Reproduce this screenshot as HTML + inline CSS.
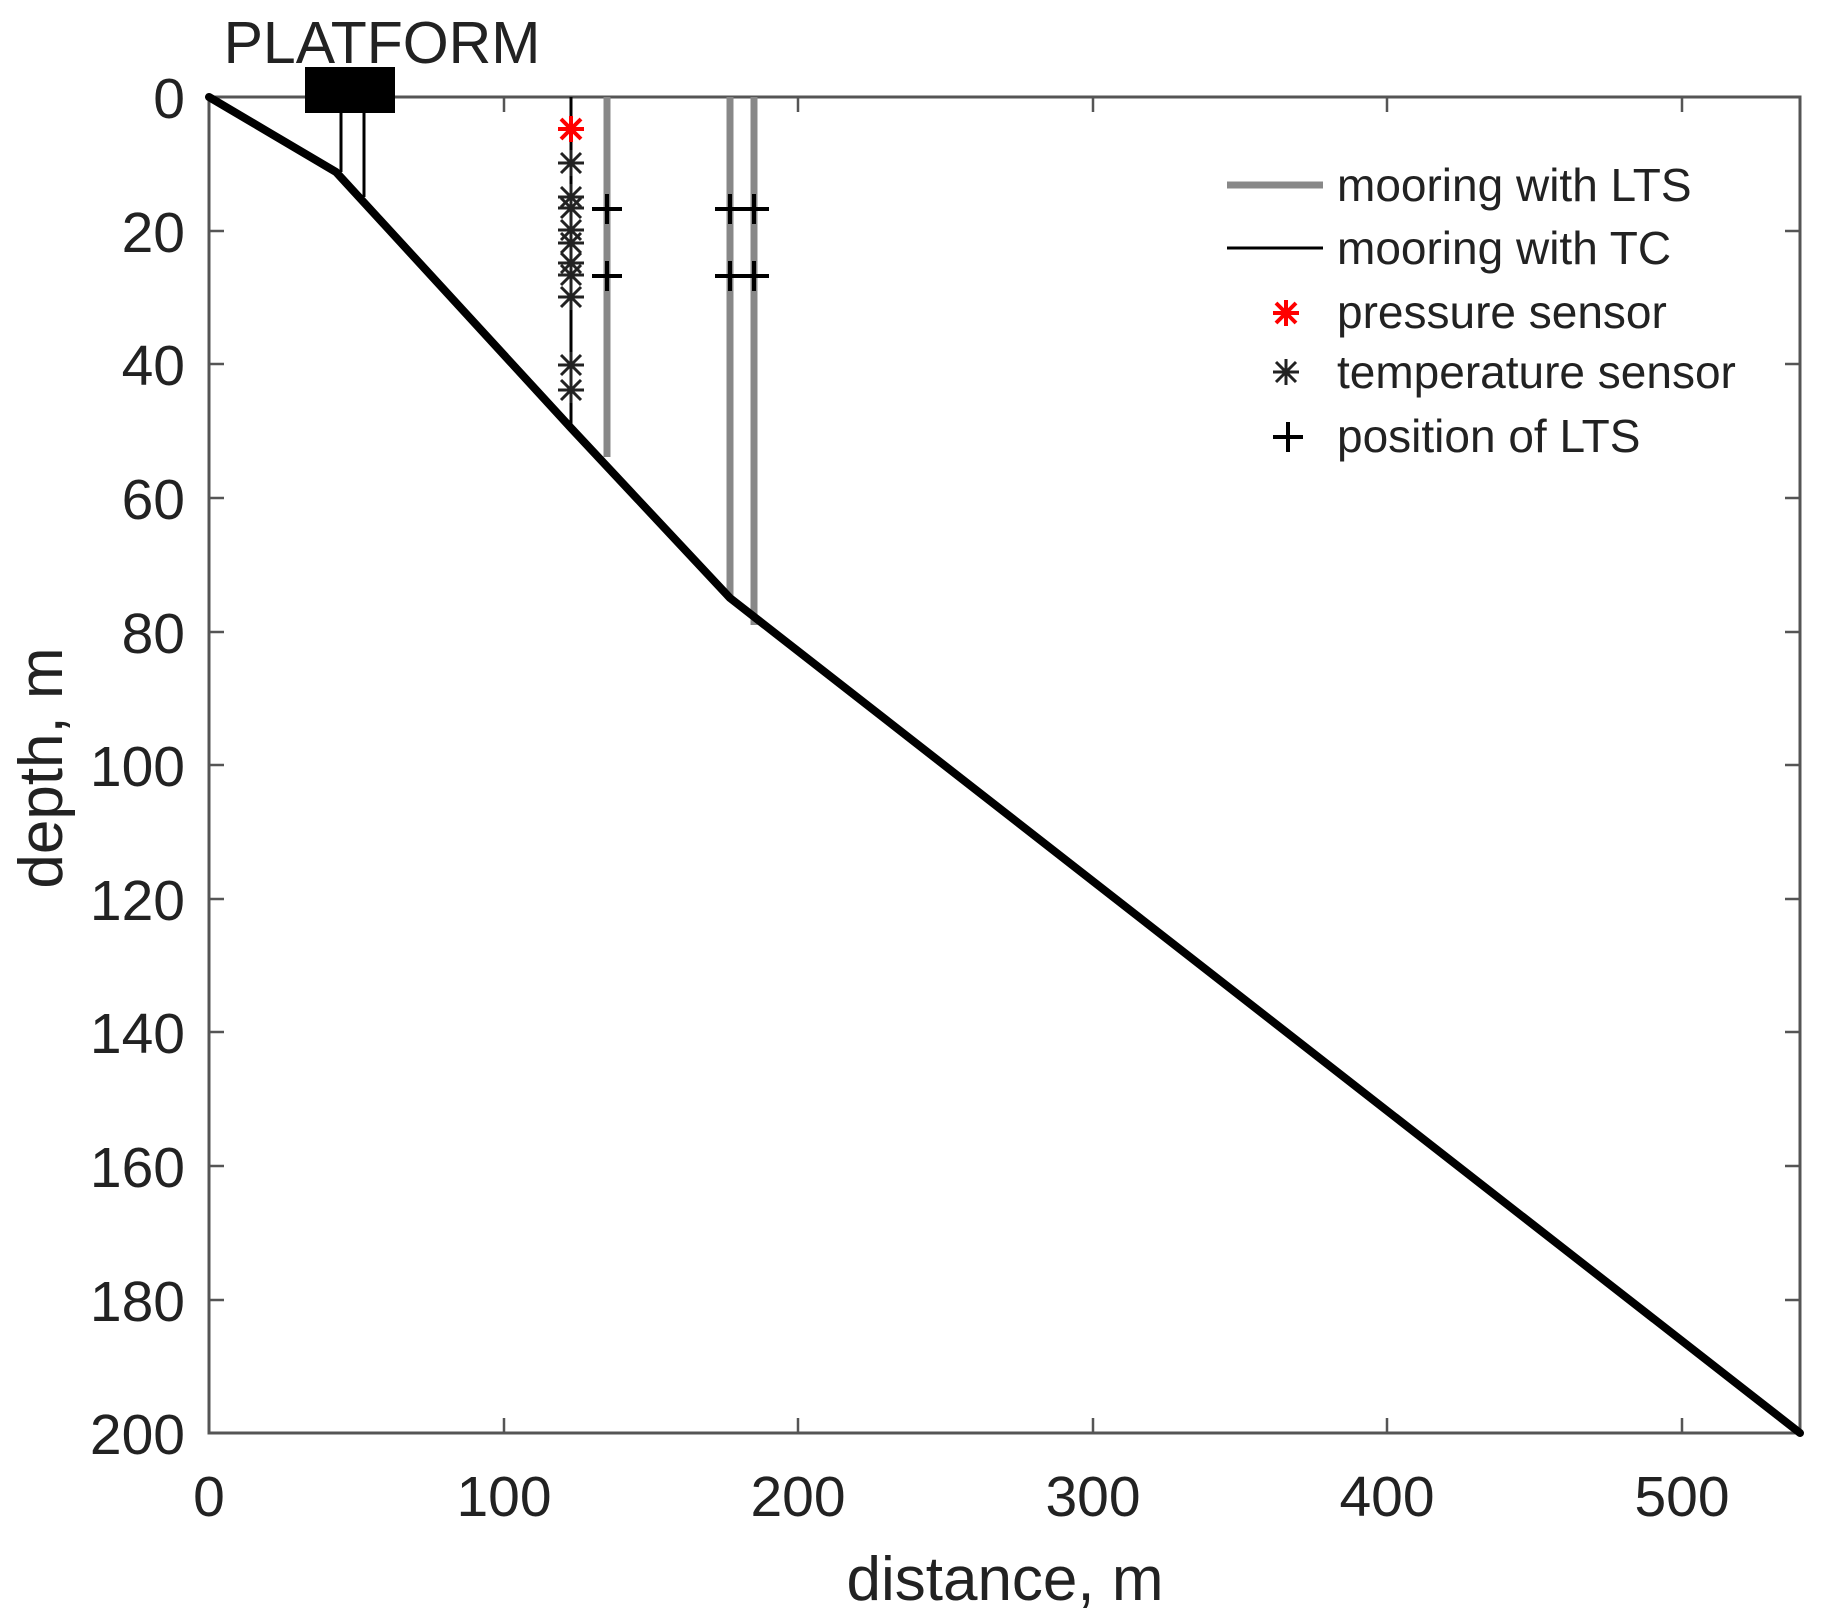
<!DOCTYPE html>
<html><head><meta charset="utf-8"><style>html,body{margin:0;padding:0;background:#fff}</style></head><body>
<svg width="1821" height="1615" viewBox="0 0 1821 1615" xmlns="http://www.w3.org/2000/svg" font-family="Liberation Sans, Arial, sans-serif">
<rect width="1821" height="1615" fill="#fff"/>
<rect x="209" y="97" width="1591" height="1336" fill="none" stroke="#555" stroke-width="3"/>
<g stroke="#555" stroke-width="2.5">
<line x1="504" y1="1433" x2="504" y2="1418"/><line x1="798" y1="1433" x2="798" y2="1418"/><line x1="1093" y1="1433" x2="1093" y2="1418"/><line x1="1387" y1="1433" x2="1387" y2="1418"/><line x1="1682" y1="1433" x2="1682" y2="1418"/>
<line x1="504" y1="97" x2="504" y2="112"/><line x1="798" y1="97" x2="798" y2="112"/><line x1="1093" y1="97" x2="1093" y2="112"/><line x1="1387" y1="97" x2="1387" y2="112"/><line x1="1682" y1="97" x2="1682" y2="112"/>
<line x1="209" y1="231" x2="224" y2="231"/><line x1="209" y1="364" x2="224" y2="364"/><line x1="209" y1="498" x2="224" y2="498"/><line x1="209" y1="632" x2="224" y2="632"/><line x1="209" y1="765" x2="224" y2="765"/><line x1="209" y1="899" x2="224" y2="899"/><line x1="209" y1="1032" x2="224" y2="1032"/><line x1="209" y1="1166" x2="224" y2="1166"/><line x1="209" y1="1300" x2="224" y2="1300"/>
<line x1="1800" y1="231" x2="1785" y2="231"/><line x1="1800" y1="364" x2="1785" y2="364"/><line x1="1800" y1="498" x2="1785" y2="498"/><line x1="1800" y1="632" x2="1785" y2="632"/><line x1="1800" y1="765" x2="1785" y2="765"/><line x1="1800" y1="899" x2="1785" y2="899"/><line x1="1800" y1="1032" x2="1785" y2="1032"/><line x1="1800" y1="1166" x2="1785" y2="1166"/><line x1="1800" y1="1300" x2="1785" y2="1300"/>
</g>
<g font-size="57" fill="#222" text-anchor="middle">
<text x="209" y="1516">0</text><text x="504" y="1516">100</text><text x="798" y="1516">200</text><text x="1093" y="1516">300</text><text x="1387" y="1516">400</text><text x="1682" y="1516">500</text>
</g>
<g font-size="57" fill="#222" text-anchor="end">
<text x="185" y="118">0</text><text x="185" y="252">20</text><text x="185" y="385">40</text><text x="185" y="519">60</text><text x="185" y="653">80</text><text x="185" y="786">100</text><text x="185" y="920">120</text><text x="185" y="1053">140</text><text x="185" y="1187">160</text><text x="185" y="1321">180</text><text x="185" y="1454">200</text>
</g>
<text x="1005" y="1600" font-size="62" fill="#222" text-anchor="middle">distance, m</text>
<text transform="translate(62,768) rotate(-90)" font-size="62" fill="#222" text-anchor="middle">depth, m</text>
<text x="382" y="63" font-size="59" fill="#222" text-anchor="middle">PLATFORM</text>
<rect x="305" y="67" width="90" height="46" fill="#000"/>
<line x1="341" y1="113" x2="341" y2="172" stroke="#000" stroke-width="3"/>
<line x1="364" y1="113" x2="364" y2="197" stroke="#000" stroke-width="3"/>
<g stroke="#888" stroke-width="7">
<line x1="607" y1="97" x2="607" y2="457"/>
<line x1="730" y1="97" x2="730" y2="598"/>
<line x1="754" y1="97" x2="754" y2="625"/>
</g>
<line x1="571" y1="97" x2="571" y2="428" stroke="#000" stroke-width="3"/>
<polyline points="209,97 336,172 571,428 730,598 1800,1433" fill="none" stroke="#000" stroke-width="8" stroke-linejoin="round" stroke-linecap="round"/>
<defs>
<g id="ast"><line x1="-13" y1="0" x2="13" y2="0"/><line x1="0" y1="-13" x2="0" y2="13"/><line x1="-10" y1="-10" x2="10" y2="10"/><line x1="-10" y1="10" x2="10" y2="-10"/></g>
<g id="pl"><line x1="-15" y1="0" x2="15" y2="0"/><line x1="0" y1="-15" x2="0" y2="15"/></g>
</defs>
<g stroke="#222" stroke-width="3">
<use href="#ast" x="571" y="163"/><use href="#ast" x="571" y="197"/><use href="#ast" x="571" y="208"/><use href="#ast" x="571" y="230"/><use href="#ast" x="571" y="243"/><use href="#ast" x="571" y="263"/><use href="#ast" x="571" y="275"/><use href="#ast" x="571" y="297"/><use href="#ast" x="571" y="365"/><use href="#ast" x="571" y="390"/>
</g>
<g stroke="#f00" stroke-width="4"><use href="#ast" x="571" y="129"/></g>
<g stroke="#000" stroke-width="4">
<use href="#pl" x="607" y="209"/><use href="#pl" x="607" y="276"/>
<use href="#pl" x="730" y="209"/><use href="#pl" x="730" y="276"/>
<use href="#pl" x="754" y="209"/><use href="#pl" x="754" y="276"/>
</g>
<line x1="1227" y1="185" x2="1323" y2="185" stroke="#888" stroke-width="7"/>
<line x1="1227" y1="248" x2="1323" y2="248" stroke="#000" stroke-width="3"/>
<g stroke="#f00" stroke-width="4"><use href="#ast" x="1286" y="313"/></g>
<g stroke="#222" stroke-width="3"><use href="#ast" x="1286" y="372"/></g>
<g stroke="#000" stroke-width="4"><use href="#pl" x="1288" y="437"/></g>
<g font-size="46" fill="#222">
<text x="1337" y="201">mooring with LTS</text>
<text x="1337" y="264">mooring with TC</text>
<text x="1337" y="328">pressure sensor</text>
<text x="1337" y="388">temperature sensor</text>
<text x="1337" y="452">position of LTS</text>
</g>
</svg>
</body></html>
